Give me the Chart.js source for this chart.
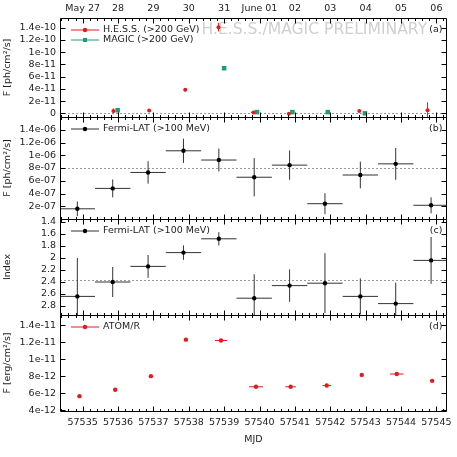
<!DOCTYPE html>
<html>
<head>
<meta charset="utf-8">
<script src="https://cdn.jsdelivr.net/npm/chart.js@4.4.0/dist/chart.umd.min.js"></script>
<style>
html, body { margin: 0; padding: 0; background: #fff; }
</style>
</head>
<body>
<canvas id="lightcurve" width="457" height="457"></canvas>
<script>
// x axis: MJD at the bottom, calendar dates on top
var mjdTicks = [57535, 57536, 57537, 57538, 57539, 57540, 57541, 57542, 57543, 57544, 57545];
var dateLabels = ["May 27", "28", "29", "30", "31", "June 01", "02", "03", "04", "05", "06"];

// (a) VHE flux
var hessMjd  = [57535.87, 57536.88, 57537.90, 57538.84, 57539.83, 57540.83, 57542.82, 57544.75];
var hessFlux = [4e-12, 4.5e-12, 3.85e-11, 1.41e-10, 1.5e-12, -5e-13, 4e-12, 5e-12];
var hessErr  = [4e-12, 2e-12, 3e-12, 7e-12, 1e-12, 1.5e-12, 1.5e-12, 1.3e-11];
var hessXErr = [0.03, 0.02, 0.02, 0.03, 0.07, 0.05, 0.03, 0.01];

var magicMjd  = [57535.99, 57539.00, 57539.93, 57540.93, 57541.93, 57542.98];
var magicFlux = [5e-12, 7.38e-11, 2e-12, 2e-12, 2e-12, 0];
var magicErr  = [1e-12, 1.5e-12, 1e-12, 1e-12, 1e-12, 1e-12];

// (b), (c) Fermi-LAT daily bins
var fermiMjd   = [57534.85, 57535.85, 57536.85, 57537.85, 57538.85, 57539.85, 57540.85, 57541.85, 57542.85, 57543.85, 57544.85];
var fermiBin   = [0.5, 0.5, 0.5, 0.5, 0.5, 0.5, 0.5, 0.5, 0.5, 0.5, 0.5];
var fermiFlux  = [1.6e-7, 4.8e-7, 7.3e-7, 1.07e-6, 9.25e-7, 6.55e-7, 8.45e-7, 2.4e-7, 6.9e-7, 8.65e-7, 2.15e-7];
var fermiFErr  = [1.15e-7, 1.4e-7, 1.75e-7, 1.9e-7, 1.8e-7, 3e-7, 2.3e-7, 1.65e-7, 2.1e-7, 2.5e-7, 1.25e-7];
var fermiIndex = [2.64, 2.40, 2.14, 1.91, 1.68, 2.67, 2.46, 2.42, 2.64, 2.76, 2.04];
var fermiIErr  = [0.64, 0.25, 0.19, 0.12, 0.11, 0.4, 0.27, 0.5, 0.3, 0.35, 0.39];

// (d) ATOM R band
var atomMjd  = [57534.91, 57535.92, 57536.93, 57537.92, 57538.91, 57539.90, 57540.88, 57541.90, 57542.89, 57543.88, 57544.88];
var atomFlux = [5.65e-12, 6.4e-12, 8.0e-12, 1.23e-11, 1.22e-11, 6.75e-12, 6.75e-12, 6.9e-12, 8.15e-12, 8.25e-12, 7.45e-12];
var atomXErr = [0.01, 0.01, 0.01, 0.01, 0.17, 0.2, 0.15, 0.12, 0.01, 0.19, 0.01];

// tick values per panel and dashed reference levels
var ticksA = [0, 2e-11, 4e-11, 6e-11, 8e-11, 1e-10, 1.2e-10, 1.4e-10];
var ticksB = [2e-7, 4e-7, 6e-7, 8e-7, 1e-6, 1.2e-6, 1.4e-6];
var ticksC = [1.4, 1.6, 1.8, 2, 2.2, 2.4, 2.6, 2.8];
var ticksD = [4e-12, 6e-12, 8e-12, 1e-11, 1.2e-11, 1.4e-11];
var refA = 0, refB = 8e-7, refC = 2.36;

var RED = '#e8191c';
var TEAL = '#1b9e77';

function pts(xs, ys) {
    return xs.map(function(x, i) { return {x: x, y: ys[i]}; });
}

// gnuplot style: 1.4e-06, 8e-11, 0
function expLabel(v) {
    if (v === 0) return '0';
    var s = Number(v.toPrecision(3)).toExponential();
    return s.replace(/e([+-])(\d)$/, 'e$10$2');
}

function plainLabel(v) {
    return String(Number(v.toFixed(2)));
}

function yAxis(weight, stackWeight, min, max, ticks, title, fmt, reverse) {
    return {
        type: 'linear',
        position: 'left',
        stack: 'panels',
        stackWeight: stackWeight,
        weight: weight,
        min: min,
        max: max,
        reverse: !!reverse,
        grid: { display: false, drawTicks: false },
        border: { display: false },
        title: { display: true, text: title, padding: { top: 2, bottom: 0 } },
        ticks: { padding: 4, autoSkip: false, callback: function(v) { return fmt(v); } },
        afterBuildTicks: function(s) {
            s.ticks = ticks.map(function(v) { return {value: v}; });
        },
        afterFit: function(s) {
            s.width = 60;
            s.paddingTop = 0;
            s.paddingBottom = 0;
        }
    };
}

// error bars, reference lines and watermark, drawn under the points
var underlay = {
    id: 'underlay',
    beforeDatasetsDraw: function(chart) {
        var ctx = chart.ctx, xs = chart.scales.x, area = chart.chartArea;

        ctx.save();
        ctx.font = '15.6px "DejaVu Sans"';
        ctx.fillStyle = '#cfcfcf';
        ctx.textBaseline = 'alphabetic';
        ctx.fillText('H.E.S.S./MAGIC PRELIMINARY', 201.5, chart.scales.ya.top + 16);
        ctx.restore();

        [['ya', refA], ['yb', refB], ['yc', refC]].forEach(function(r) {
            var y = Math.round(chart.scales[r[0]].getPixelForValue(r[1])) + 0.5;
            ctx.save();
            ctx.strokeStyle = '#9a9a9a';
            ctx.lineWidth = 1;
            ctx.setLineDash([2, 2]);
            ctx.beginPath();
            ctx.moveTo(area.left, y);
            ctx.lineTo(area.right, y);
            ctx.stroke();
            ctx.restore();
        });

        chart.data.datasets.forEach(function(ds) {
            var ys = chart.scales[ds.yAxisID];
            ctx.save();
            ctx.beginPath();
            ctx.rect(area.left, ys.top, area.right - area.left, ys.bottom - ys.top);
            ctx.clip();
            ctx.strokeStyle = ds.barColor;
            ctx.lineWidth = 1;
            ds.data.forEach(function(p, i) {
                var px = xs.getPixelForValue(p.x), py = ys.getPixelForValue(p.y);
                ctx.beginPath();
                if (ds.xErr) {
                    ctx.moveTo(xs.getPixelForValue(p.x - ds.xErr[i]), py);
                    ctx.lineTo(xs.getPixelForValue(p.x + ds.xErr[i]), py);
                }
                if (ds.yErr) {
                    ctx.moveTo(px, ys.getPixelForValue(p.y - ds.yErr[i]));
                    ctx.lineTo(px, ys.getPixelForValue(p.y + ds.yErr[i]));
                }
                ctx.stroke();
            });
            ctx.restore();
        });
    }
};

// panel frames, inward ticks, keys and panel letters
var frames = {
    id: 'frames',
    afterDraw: function(chart) {
        var ctx = chart.ctx, xs = chart.scales.x, area = chart.chartArea;
        var L = Math.round(area.left) + 0.5, R = Math.round(area.right) - 0.5;
        var letters = ['(a)', '(b)', '(c)', '(d)'];
        ['ya', 'yb', 'yc', 'yd'].forEach(function(id, k) {
            var ys = chart.scales[id];
            var T = Math.round(ys.top) + 0.5, B = Math.round(ys.bottom) + 0.5;
            ctx.save();
            ctx.strokeStyle = '#000';
            ctx.lineWidth = 1;
            ctx.beginPath();
            ctx.rect(L, T, R - L, B - T);
            ys.ticks.forEach(function(t) {
                var y = Math.round(ys.getPixelForValue(t.value)) + 0.5;
                ctx.moveTo(L, y); ctx.lineTo(L + 5, y);
                ctx.moveTo(R, y); ctx.lineTo(R - 5, y);
            });
            for (var n = Math.ceil(xs.min * 5); n <= Math.floor(xs.max * 5); n++) {
                var x = Math.round(xs.getPixelForValue(n / 5)) + 0.5;
                var len = (n % 5 === 0) ? 5 : 2.5;
                ctx.moveTo(x, T); ctx.lineTo(x, T + len);
                ctx.moveTo(x, B); ctx.lineTo(x, B - len);
            }
            ctx.stroke();

            ctx.font = '9.5px "DejaVu Sans"';
            ctx.fillStyle = '#222';
            ctx.textBaseline = 'middle';
            ctx.textAlign = 'right';
            ctx.fillText(letters[k], R - 4, T + 11);

            var row = 0;
            chart.data.datasets.forEach(function(ds) {
                if (ds.yAxisID !== id) return;
                var y = Math.round(T + 11 + row * 10.5);
                ctx.strokeStyle = ds.barColor;
                ctx.beginPath();
                ctx.moveTo(71, y); ctx.lineTo(99, y);
                ctx.stroke();
                ctx.fillStyle = ds.pointBackgroundColor;
                if (ds.pointStyle === 'rect') {
                    ctx.fillRect(83, y - 2, 4, 4);
                } else {
                    ctx.beginPath();
                    ctx.arc(85, y, 2.2, 0, Math.PI * 2);
                    ctx.fill();
                }
                ctx.fillStyle = '#222';
                ctx.textAlign = 'left';
                ctx.fillText(ds.label, 103, y);
                row++;
            });
            ctx.restore();
        });
    }
};

Chart.defaults.font.family = '"DejaVu Sans"';
Chart.defaults.font.size = 9.5;
Chart.defaults.color = '#222';

new Chart(document.getElementById('lightcurve'), {
    type: 'scatter',
    data: {
        datasets: [
            { label: 'H.E.S.S. (>200 GeV)', yAxisID: 'ya', xAxisID: 'x', data: pts(hessMjd, hessFlux),
              yErr: hessErr, xErr: hessXErr, barColor: RED, pointBackgroundColor: RED, pointRadius: 2 },
            { label: 'MAGIC (>200 GeV)', yAxisID: 'ya', xAxisID: 'x', data: pts(magicMjd, magicFlux),
              yErr: magicErr, barColor: TEAL, pointBackgroundColor: TEAL, pointStyle: 'rect', pointRadius: 3.2 },
            { label: 'Fermi-LAT (>100 MeV)', yAxisID: 'yb', xAxisID: 'x', data: pts(fermiMjd, fermiFlux),
              yErr: fermiFErr, xErr: fermiBin, barColor: '#333', pointBackgroundColor: '#000', pointRadius: 2.2 },
            { label: 'Fermi-LAT (>100 MeV)', yAxisID: 'yc', xAxisID: 'x', data: pts(fermiMjd, fermiIndex),
              yErr: fermiIErr, xErr: fermiBin, barColor: '#333', pointBackgroundColor: '#000', pointRadius: 2.2 },
            { label: 'ATOM/R', yAxisID: 'yd', xAxisID: 'x', data: pts(atomMjd, atomFlux),
              xErr: atomXErr, barColor: RED, pointBackgroundColor: RED, pointRadius: 2.2 }
        ]
    },
    plugins: [underlay, frames],
    options: {
        responsive: false,
        animation: false,
        layout: { padding: { left: 0, right: 10, top: 0, bottom: 0 } },
        elements: { point: { borderWidth: 0, hoverRadius: 0 } },
        plugins: {
            legend: { display: false },
            tooltip: { enabled: false }
        },
        scales: {
            x: {
                type: 'linear',
                position: 'bottom',
                min: 57534.36,
                max: 57545.3,
                grid: { display: false, drawTicks: false },
                border: { display: false },
                title: { display: true, text: 'MJD', padding: { top: 0, bottom: 12 } },
                ticks: { padding: 6, autoSkip: false, maxRotation: 0, callback: function(v) { return String(v); } },
                afterBuildTicks: function(s) {
                    s.ticks = mjdTicks.map(function(v) { return {value: v}; });
                },
                afterFit: function(s) {
                    s.height = 46;
                    s.paddingLeft = 0;
                    s.paddingRight = 0;
                }
            },
            x2: {
                type: 'linear',
                position: 'top',
                min: 57534.36,
                max: 57545.3,
                grid: { display: false, drawTicks: false },
                border: { display: false },
                ticks: { padding: 4, autoSkip: false, maxRotation: 0,
                    callback: function(v) { return dateLabels[mjdTicks.indexOf(v)]; } },
                afterBuildTicks: function(s) {
                    s.ticks = mjdTicks.map(function(v) { return {value: v}; });
                },
                afterFit: function(s) {
                    s.height = 18;
                    s.paddingLeft = 0;
                    s.paddingRight = 0;
                }
            },
            ya: yAxis(4, 99, -6e-12, 1.56e-10, ticksA, 'F [ph/cm\u00b2/s]', expLabel),
            yb: yAxis(3, 102, 0, 1.6e-6, ticksB, 'F [ph/cm\u00b2/s]', expLabel),
            yc: yAxis(2, 96, 1.35, 2.95, ticksC, 'Index', plainLabel, true),
            yd: yAxis(1, 96, 3.9e-12, 1.52e-11, ticksD, 'F [erg/cm\u00b2/s]', expLabel)
        }
    }
});
</script>
</body>
</html>
